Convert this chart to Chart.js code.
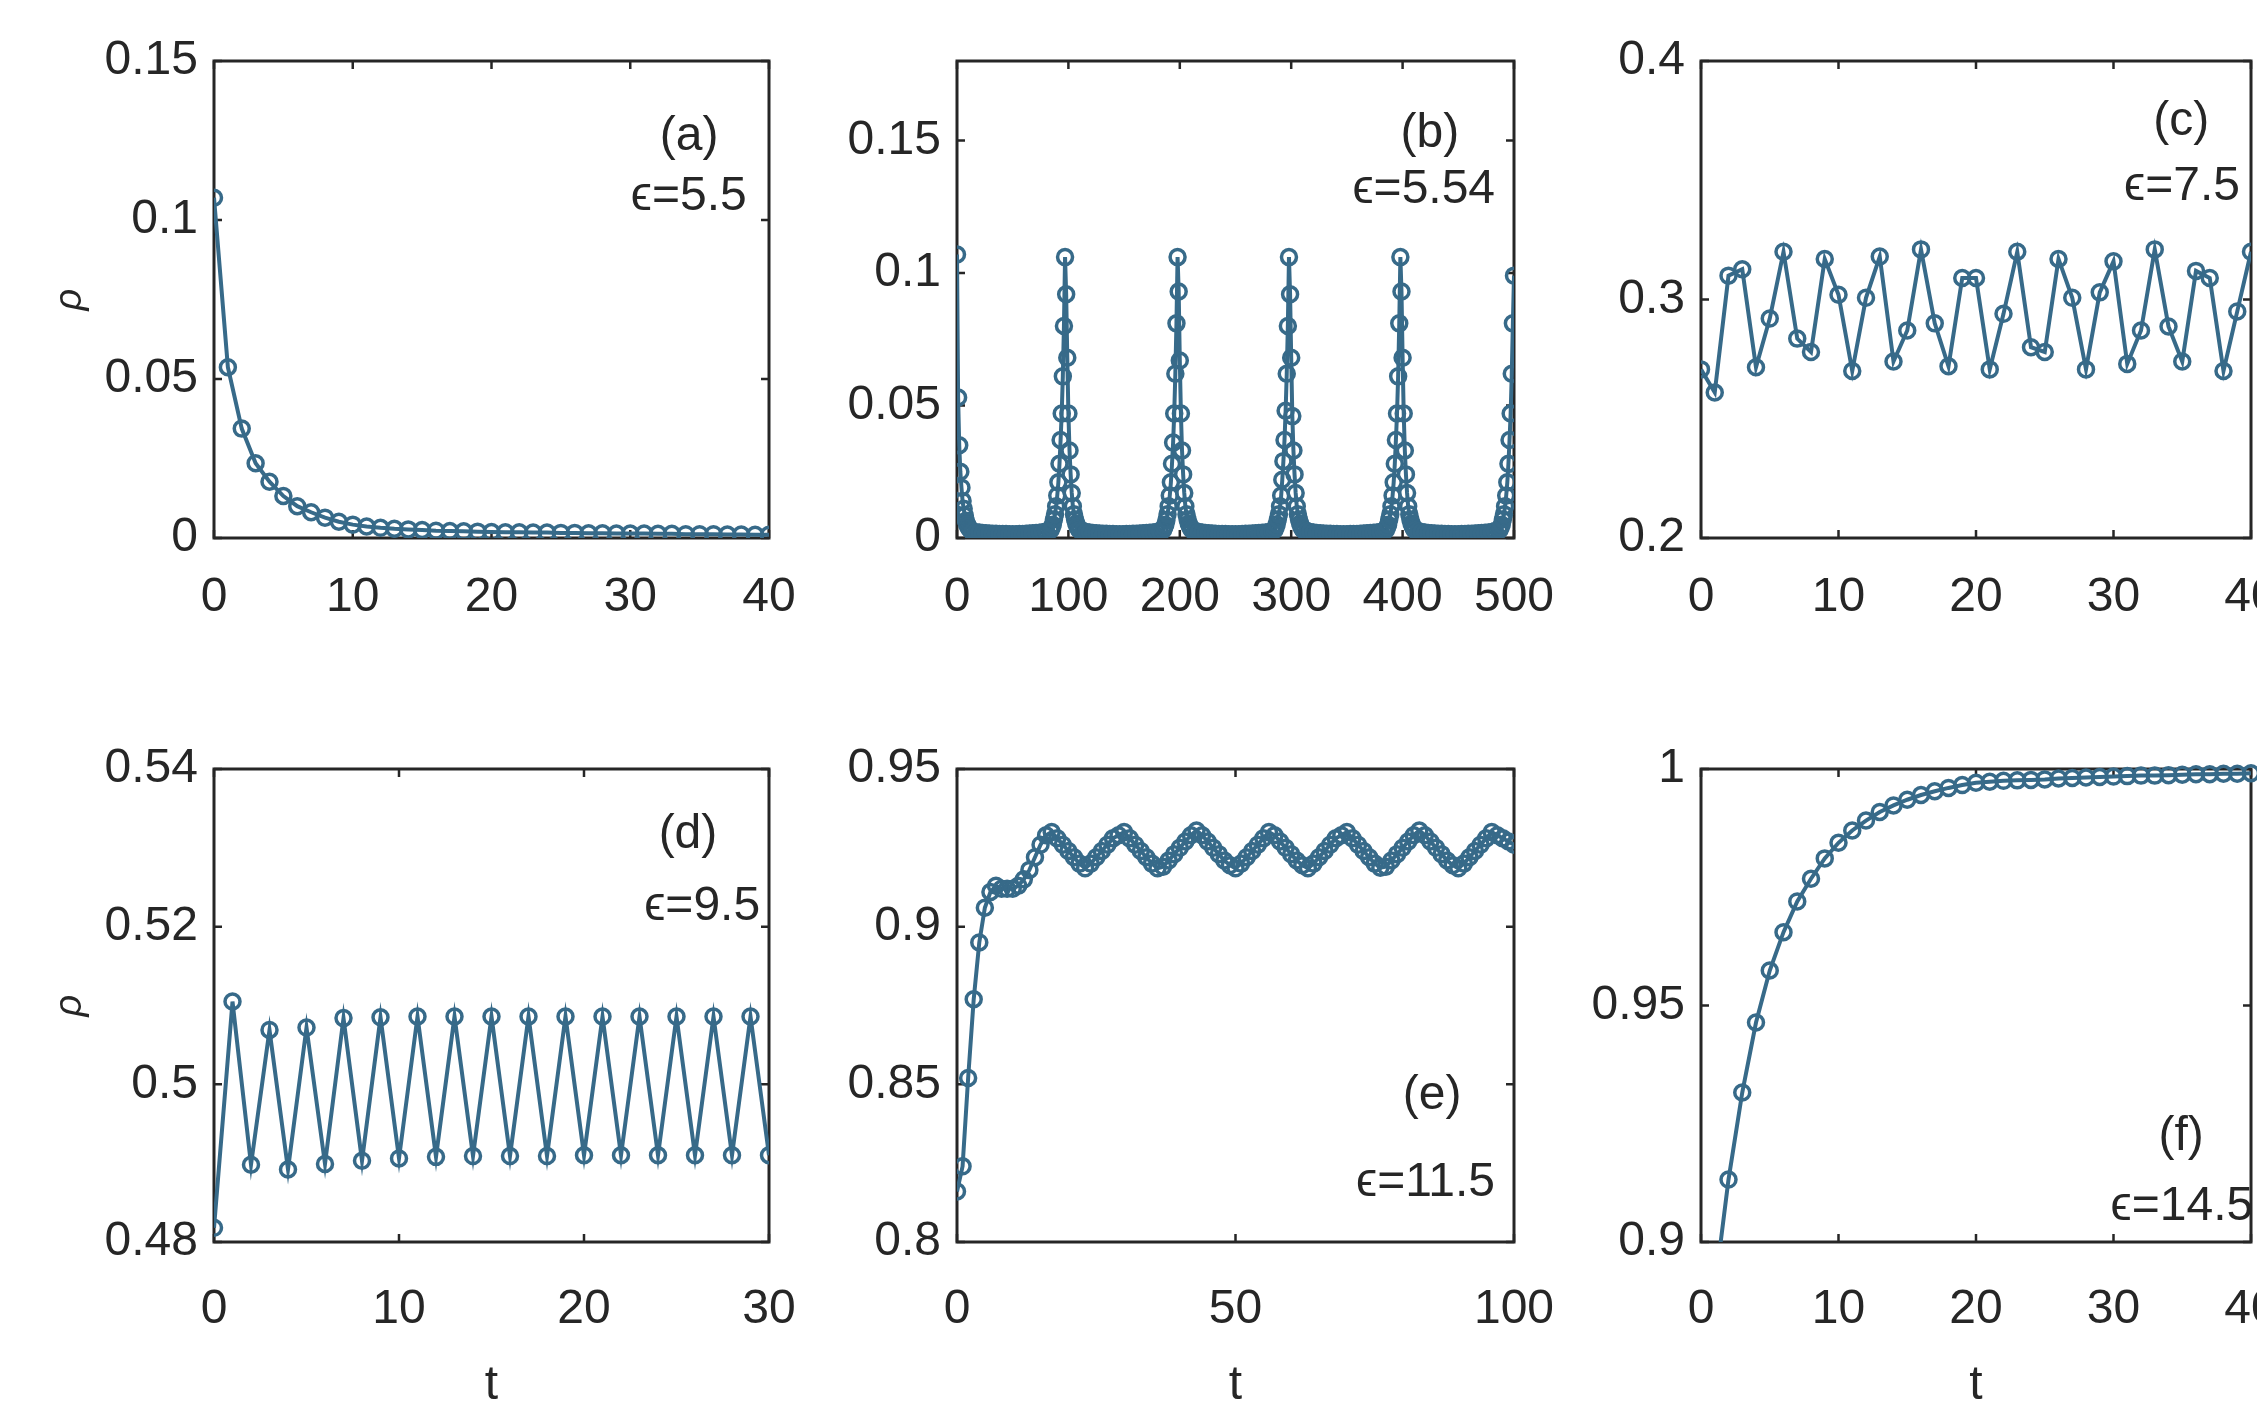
<!DOCTYPE html>
<html><head><meta charset="utf-8">
<script src="https://cdn.jsdelivr.net/npm/chart.js@4.4.1/dist/chart.umd.min.js"></script>
<style>
html,body{margin:0;padding:0;background:#fff;width:2257px;height:1402px;overflow:hidden;position:relative}
canvas{position:absolute}
</style>
</head><body>
<script>
// ---------------- DATA ----------------
const t30 = [0,1,2,3,4,5,6,7,8,9,10,11,12,13,14,15,16,17,18,19,20,21,22,23,24,25,26,27,28,29,30];
const t40 = [0,1,2,3,4,5,6,7,8,9,10,11,12,13,14,15,16,17,18,19,20,21,22,23,24,25,26,27,28,29,30,31,32,33,34,35,36,37,38,39,40];
const t100 = [0,1,2,3,4,5,6,7,8,9,10,11,12,13,14,15,16,17,18,19,20,21,22,23,24,25,26,27,28,29,30,31,32,33,34,35,36,37,38,39,40,41,42,43,44,45,46,47,48,49,50,51,52,53,54,55,56,57,58,59,60,61,62,63,64,65,66,67,68,69,70,71,72,73,74,75,76,77,78,79,80,81,82,83,84,85,86,87,88,89,90,91,92,93,94,95,96,97,98,99,100];

// (a) eps = 5.5
const aRho = [0.107,0.0537,0.0344,0.0235,0.0177,0.0132,0.0100,0.0081,0.0064,0.0051,
  0.0042,0.0036,0.0032,0.0029,0.0027,0.0025,0.0023,0.0022,0.0021,0.0020,
  0.0019,0.0018,0.0018,0.0017,0.0017,0.0016,0.0016,0.0015,0.0015,0.0014,
  0.0014,0.0014,0.0013,0.0013,0.0012,0.0012,0.0012,0.0011,0.0011,0.0010,0.0010];

// (b) eps = 5.54
const bT = [
  0,1,2,3,4,5,6,7,8,9,10,11,12,13,14,
  17,20,23,26,29,32,35,38,41,44,47,50,53,56,59,62,65,68,71,74,77,80,
  84,85,86,87,88,89,90,91,92,93,94,95,96,97,98,99,100,101,102,103,104,105,106,107,108,109,110,
  113,116,119,122,125,128,131,134,137,140,143,146,149,152,155,158,161,164,167,170,173,176,179,182,
  185,186,187,188,189,190,191,192,193,194,195,196,197,198,199,200,201,202,203,204,205,206,207,208,209,210,211,
  214,217,220,223,226,229,232,235,238,241,244,247,250,253,256,259,262,265,268,271,274,277,280,283,
  285,286,287,288,289,290,291,292,293,294,295,296,297,298,299,300,301,302,303,304,305,306,307,308,309,310,311,
  314,317,320,323,326,329,332,335,338,341,344,347,350,353,356,359,362,365,368,371,374,377,380,383,
  385,386,387,388,389,390,391,392,393,394,395,396,397,398,399,400,401,402,403,404,405,406,407,408,409,410,411,
  414,417,420,423,426,429,432,435,438,441,444,447,450,453,456,459,462,465,468,471,474,477,480,483,
  487,488,489,490,491,492,493,494,495,496,497,498,499,500];
const bRho = [
  0.107,0.053,0.035,0.025,0.019,0.014,0.011,0.0085,0.0065,0.0052,0.0043,0.0036,0.0031,0.0027,0.0024,
  0.0022,0.0021,0.0019,0.0018,0.0017,0.0016,0.0016,0.0015,0.0015,0.0015,0.0014,0.0014,0.0014,0.0015,0.0015,0.0016,0.0017,0.0018,0.0019,0.002,0.0022,0.0025,
  0.003,0.004,0.005,0.007,0.009,0.012,0.016,0.021,0.028,0.037,0.047,0.061,0.080,0.106,0.092,0.068,0.047,0.033,0.024,0.017,0.012,0.009,0.007,0.0055,0.0045,0.0035,0.003,
  0.0026,0.0023,0.0021,0.0019,0.0018,0.0017,0.0016,0.0016,0.0015,0.0015,0.0014,0.0014,0.0014,0.0015,0.0015,0.0016,0.0016,0.0017,0.0018,0.0019,0.002,0.0021,0.0023,0.0026,
  0.003,0.004,0.005,0.0068,0.009,0.012,0.016,0.021,0.028,0.036,0.047,0.062,0.081,0.106,0.093,0.067,0.047,0.033,0.024,0.017,0.012,0.009,0.007,0.0055,0.0045,0.0036,0.003,
  0.0026,0.0023,0.0021,0.0019,0.0018,0.0017,0.0016,0.0015,0.0015,0.0015,0.0014,0.0014,0.0014,0.0014,0.0015,0.0016,0.0016,0.0017,0.0018,0.0019,0.002,0.0021,0.0023,0.0026,
  0.003,0.004,0.0052,0.007,0.009,0.012,0.016,0.022,0.029,0.037,0.048,0.062,0.080,0.106,0.092,0.068,0.046,0.033,0.024,0.017,0.012,0.009,0.007,0.0055,0.0044,0.0035,0.003,
  0.0026,0.0023,0.0021,0.0019,0.0018,0.0017,0.0016,0.0016,0.0015,0.0015,0.0014,0.0014,0.0014,0.0015,0.0015,0.0015,0.0016,0.0017,0.0018,0.0019,0.002,0.0021,0.0023,0.0026,
  0.003,0.004,0.005,0.007,0.009,0.012,0.016,0.021,0.028,0.037,0.047,0.061,0.081,0.106,0.093,0.068,0.047,0.033,0.024,0.017,0.012,0.009,0.007,0.0055,0.0045,0.0035,0.003,
  0.0026,0.0023,0.0021,0.0019,0.0018,0.0017,0.0016,0.0016,0.0015,0.0015,0.0014,0.0014,0.0014,0.0015,0.0015,0.0016,0.0016,0.0017,0.0018,0.0019,0.002,0.0021,0.0023,0.0026,
  0.003,0.004,0.005,0.007,0.009,0.012,0.016,0.021,0.028,0.037,0.047,0.062,0.081,0.099];

// (c) eps = 7.5
const cRho = [0.2707,0.261,0.310,0.3127,0.2716,0.292,0.320,0.2836,0.278,0.317,
  0.302,0.270,0.3007,0.318,0.274,0.287,0.321,0.290,0.272,0.309,
  0.309,0.2707,0.294,0.320,0.280,0.278,0.317,0.3007,0.2707,0.303,
  0.316,0.273,0.287,0.321,0.2887,0.274,0.312,0.309,0.270,0.295,0.320];

// (d) eps = 9.5
const dRho = [0.4818,0.5105,0.4898,0.5069,0.4892,0.5072,0.4899,0.5084,0.4903,0.5085,
  0.4906,0.5086,0.4908,0.5086,0.4909,0.5086,0.4909,0.5086,0.4909,0.5086,
  0.4910,0.5086,0.4910,0.5086,0.4910,0.5086,0.4910,0.5086,0.4910,0.5086,0.4910];

// (e) eps = 11.5
const eRho = [0.816,0.824,0.852,0.877,0.895,0.906,0.911,0.913,0.912,0.912,
  0.912,0.913,0.915,0.918,0.922,0.926,0.929,0.930,0.928,0.926,
  0.924,0.922,0.920,0.9185,0.920,0.922,0.924,0.926,0.928,0.929,
  0.930,0.928,0.926,0.924,0.922,0.920,0.9185,0.919,0.921,0.923,
  0.925,0.927,0.929,0.9305,0.929,0.927,0.925,0.923,0.921,0.9195,
  0.9185,0.920,0.922,0.924,0.926,0.928,0.930,0.929,0.927,0.925,
  0.923,0.921,0.9195,0.9185,0.920,0.922,0.924,0.926,0.928,0.929,
  0.930,0.928,0.926,0.924,0.922,0.920,0.9187,0.919,0.921,0.923,
  0.925,0.927,0.929,0.9305,0.929,0.927,0.925,0.923,0.921,0.9195,
  0.9185,0.920,0.922,0.924,0.926,0.928,0.930,0.929,0.928,0.927,0.926];

// (f) eps = 14.5
const fRho = [0.862,0.890,0.9132,0.9316,0.9464,0.9574,0.9655,0.972,0.9768,0.9811,
  0.9844,0.9870,0.9891,0.9909,0.9923,0.9935,0.9945,0.9953,0.9960,0.9966,
  0.9971,0.9973,0.9975,0.9976,0.9977,0.9978,0.9980,0.9981,0.9982,0.9983,
  0.9984,0.9985,0.9986,0.9986,0.9987,0.9988,0.9989,0.9989,0.9990,0.9990,0.9991];

// tick labels
const aXTicks = [0,10,20,30,40],        aYTicks = [0,0.05,0.1,0.15];
const bXTicks = [0,100,200,300,400,500], bYTicks = [0,0.05,0.1,0.15];
const cXTicks = [0,10,20,30,40],        cYTicks = [0.2,0.3,0.4];
const dXTicks = [0,10,20,30],           dYTicks = [0.48,0.5,0.52,0.54];
const eXTicks = [0,50,100],             eYTicks = [0.8,0.85,0.9,0.95];
const fXTicks = [0,10,20,30,40],        fYTicks = [0.9,0.95,1];

const panelLabels = ['(a)','(b)','(c)','(d)','(e)','(f)'];
const epsLabels = ['ϵ=5.5','ϵ=5.54','ϵ=7.5','ϵ=9.5','ϵ=11.5','ϵ=14.5'];

// ---------------- STYLE ----------------
function fontAvailable(name){
  const c=document.createElement('canvas').getContext('2d');
  const s='0.15 (a) 500 ρ';
  c.font='50px monospace'; const w1=c.measureText(s).width;
  c.font='50px "'+name+'", monospace'; const w2=c.measureText(s).width;
  c.font='50px serif'; const w3=c.measureText(s).width;
  c.font='50px "'+name+'", serif'; const w4=c.measureText(s).width;
  return Math.abs(w1-w2)>0.5 && Math.abs(w3-w4)>0.5;
}
const NARROW = fontAvailable('Liberation Sans Narrow');
const FAMILY = NARROW ? '"Liberation Sans Narrow","Liberation Sans","DejaVu Sans",sans-serif' : '"Liberation Sans",Arial,"DejaVu Sans",sans-serif';
const FS = NARROW ? 56 : 48;
const COLOR = '#376a89';
const TXT = '#262626';

const framePlugin = {
  id:'frame',
  beforeDatasetsDraw(chart){
    const {ctx, chartArea:{left,right,top,bottom}, scales:{x,y}} = chart;
    ctx.save();
    ctx.strokeStyle=TXT; ctx.lineWidth=3;
    ctx.strokeRect(left,top,right-left,bottom-top);
    ctx.lineWidth=2.5;
    const tl=8;
    ctx.beginPath();
    x.ticks.forEach(tk=>{const px=x.getPixelForValue(tk.value);
      ctx.moveTo(px,bottom); ctx.lineTo(px,bottom-tl); ctx.moveTo(px,top); ctx.lineTo(px,top+tl);});
    y.ticks.forEach(tk=>{const py=y.getPixelForValue(tk.value);
      ctx.moveTo(left,py); ctx.lineTo(left+tl,py); ctx.moveTo(right,py); ctx.lineTo(right-tl,py);});
    ctx.stroke();
    ctx.restore();
  }
};
const textPlugin = {
  id:'panelText',
  afterDraw(chart, args, opts){
    const {ctx, chartArea:{left,right,top,bottom}} = chart;
    const W=right-left, H=bottom-top;
    ctx.save();
    ctx.fillStyle=TXT; ctx.font=FS+'px '+FAMILY; ctx.textBaseline='middle';
    ctx.textAlign='center';
    ctx.fillText(opts.lab, left+opts.labPos[0]*W, top+opts.labPos[1]*H);
    ctx.textAlign='right';
    ctx.fillText(opts.eps, left+opts.epsPos[0]*W, top+opts.epsPos[1]*H);
    ctx.restore();
  }
};

const panels = [
  {rect:[214,61,769,538],   col:0, t:t40,  rho:aRho, xr:[0,40],  yr:[0,0.15],   xt:aXTicks, yt:aYTicks, yTitle:true,  xTitle:false, labPos:[0.856,0.159], epsPos:[0.960,0.285]},
  {rect:[957,61,1514,538],  col:1, t:bT,   rho:bRho, xr:[0,500], yr:[0,0.18],   xt:bXTicks, yt:bYTicks, yTitle:false, xTitle:false, labPos:[0.849,0.153], epsPos:[0.966,0.270]},
  {rect:[1701,61,2251,538], col:2, t:t40,  rho:cRho, xr:[0,40],  yr:[0.2,0.4],  xt:cXTicks, yt:cYTicks, yTitle:false, xTitle:false, labPos:[0.873,0.128], epsPos:[0.980,0.264]},
  {rect:[214,769,769,1242], col:0, t:t30,  rho:dRho, xr:[0,30],  yr:[0.48,0.54],xt:dXTicks, yt:dYTicks, yTitle:true,  xTitle:true,  labPos:[0.854,0.140], epsPos:[0.984,0.292]},
  {rect:[957,769,1514,1242],col:1, t:t100, rho:eRho, xr:[0,100], yr:[0.8,0.95], xt:eXTicks, yt:eYTicks, yTitle:false, xTitle:true,  labPos:[0.853,0.691], epsPos:[0.966,0.875]},
  {rect:[1701,769,2251,1242],col:2,t:t40,  rho:fRho, xr:[0,40],  yr:[0.9,1],    xt:fXTicks, yt:fYTicks, yTitle:false, xTitle:true,  labPos:[0.873,0.778], epsPos:[1.004,0.926], clip:{left:12,top:12,right:12,bottom:0}}
];

function makePanel(p, idx){
  const [l,t,r,b] = p.rect;
  const W=r-l, H=b-t;
  const L = p.col===0 ? 166 : 130;
  const T = 50, R = 120;
  const B = p.xTitle ? Math.round(1386 + 0.6*FS - b) : 100;
  const xPad = Math.round(60-0.6*FS) + (p.xTitle ? 8 : 0);
  const cv=document.createElement('canvas');
  cv.width=L+W+R; cv.height=T+H+B;
  cv.style.left=(l-L)+'px'; cv.style.top=(t-T)+'px';
  cv.style.width=cv.width+'px'; cv.style.height=cv.height+'px';
  document.body.appendChild(cv);
  const n=Math.min(p.t.length,p.rho.length);
  const data=[];
  for(let i=0;i<n;i++) data.push({x:p.t[i], y:p.rho[i]});
  const ds={data, borderColor:COLOR, borderWidth:4, pointRadius:7.5, pointHoverRadius:7.5,
    pointBorderWidth:3.5, pointBackgroundColor:'rgba(0,0,0,0)', pointBorderColor:COLOR, tension:0, fill:false};
  if(p.clip) ds.clip=p.clip;
  new Chart(cv,{
    type:'line',
    data:{datasets:[ds]},
    options:{
      responsive:false, devicePixelRatio:1, animation:false, events:[],
      layout:{padding:{top:T,right:R,left:0,bottom:0}},
      plugins:{legend:{display:false}, tooltip:{enabled:false},
        panelText:{lab:panelLabels[idx], eps:epsLabels[idx], labPos:p.labPos, epsPos:p.epsPos}},
      scales:{
        x:{type:'linear', min:p.xr[0], max:p.xr[1],
          afterBuildTicks:s=>{s.ticks=p.xt.map(v=>({value:v}));},
          afterFit:s=>{s.height=B;},
          grid:{display:false, drawTicks:false}, border:{display:false},
          ticks:{font:{family:FAMILY,size:FS}, color:TXT, padding:xPad, maxRotation:0, minRotation:0, autoSkip:false, callback:v=>String(v)},
          title:{display:p.xTitle, text:'t', font:{family:FAMILY,size:FS}, color:TXT, padding:0}},
        y:{type:'linear', min:p.yr[0], max:p.yr[1],
          afterBuildTicks:s=>{s.ticks=p.yt.map(v=>({value:v}));},
          afterFit:s=>{s.width=L;},
          grid:{display:false, drawTicks:false}, border:{display:false},
          ticks:{font:{family:FAMILY,size:FS}, color:TXT, padding:16, autoSkip:false, callback:v=>String(v)},
          title:{display:p.yTitle, text:'ρ', font:{family:FAMILY,size:Math.round(FS*0.8),style:'italic'}, color:TXT, padding:0}}
      }
    },
    plugins:[framePlugin, textPlugin]
  });
}
panels.forEach(makePanel);
</script>
</body></html>
